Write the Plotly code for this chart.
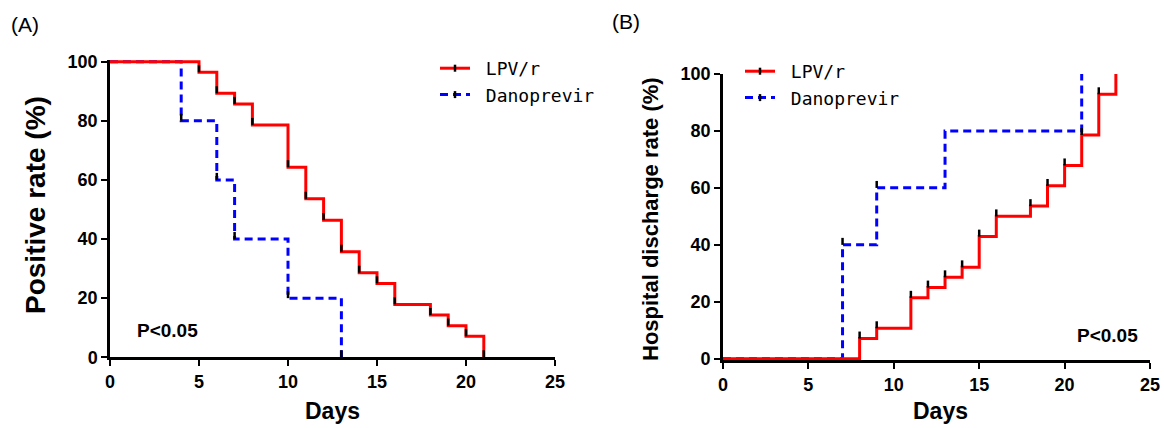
import plotly.graph_objects as go

# ---------------- data ----------------
# (A) Positive rate (%) by days
lpv_pos_days = [0, 5, 6, 7, 8, 10, 11, 12, 13, 14, 15, 16, 18, 19, 20, 21]
lpv_pos_rate = [100, 96.4, 89.3, 85.7, 78.6, 64.3, 53.6, 46.4, 35.7, 28.6, 25.0, 17.9, 14.3, 10.7, 7.1, 0]
lpv_pos_ticks = [5, 6, 7, 8, 10, 11, 12, 13, 14, 15, 16, 18, 19, 20, 21]

dano_pos_days = [0, 4, 6, 7, 10, 13]
dano_pos_rate = [100, 80, 60, 40, 20, 0]
dano_pos_ticks = [4, 6, 7, 10, 13]

# (B) Hospital discharge rate (%) by days
lpv_dis_days = [0, 8, 9, 11, 12, 13, 14, 15, 16, 18, 19, 20, 21, 22, 23]
lpv_dis_rate = [0, 7.1, 10.7, 21.4, 25.0, 28.6, 32.1, 42.9, 50.0, 53.6, 60.7, 67.9, 78.6, 92.9, 100]
lpv_dis_ticks = [8, 9, 11, 12, 13, 14, 15, 16, 18, 19, 20, 21, 22, 23]

dano_dis_days = [0, 7, 9, 13, 21]
dano_dis_rate = [0, 40, 60, 80, 100]
dano_dis_ticks = [7, 9, 21]

series_names = ["LPV/r", "Danoprevir"]
x_ticks = [0, 5, 10, 15, 20, 25]
y_ticks = [0, 20, 40, 60, 80, 100]
p_text = "P<0.05"

# ---------------- style ----------------
FONT = "Liberation Sans, Arial, sans-serif"
MONO = "DejaVu Sans Mono, monospace"
RED = "#ff0000"
BLUE = "#0000ff"
DASH = "8px,5px"
TICK_OFF = 1.2  # censor tick drawn just above the step corner

fig = go.Figure()


def add_km(days, rate, ticks, xa, ya, color, dash):
    fig.add_trace(go.Scatter(
        x=days, y=rate, mode="lines", xaxis=xa, yaxis=ya,
        line=dict(color=color, width=3, dash=dash, shape="hv"),
        showlegend=False, hoverinfo="skip"))
    tick_y = [rate[days.index(d)] + TICK_OFF for d in ticks]
    fig.add_trace(go.Scatter(
        x=ticks, y=tick_y, mode="markers", xaxis=xa, yaxis=ya,
        marker=dict(symbol="line-ns", size=5, color="black",
                    line=dict(color="black", width=2.5)),
        cliponaxis=False, showlegend=False, hoverinfo="skip"))


add_km(dano_pos_days, dano_pos_rate, dano_pos_ticks, "x", "y", BLUE, DASH)
add_km(lpv_pos_days, lpv_pos_rate, lpv_pos_ticks, "x", "y", RED, "solid")
add_km(dano_dis_days, dano_dis_rate, dano_dis_ticks, "x2", "y2", BLUE, DASH)
add_km(lpv_dis_days, lpv_dis_rate, lpv_dis_ticks, "x2", "y2", RED, "solid")

# legend entries
for lg, xa, ya in [("legend", "x", "y"), ("legend2", "x2", "y2")]:
    for name, color, dash in [(series_names[0], RED, "solid"), (series_names[1], BLUE, DASH)]:
        fig.add_trace(go.Scatter(
            x=[None], y=[None], mode="lines+markers", xaxis=xa, yaxis=ya,
            name="\u00a0" + name, legend=lg,
            line=dict(color=color, width=3, dash=dash),
            marker=dict(symbol="line-ns", size=5, color="black",
                        line=dict(color="black", width=2.5))))

axis_common = dict(
    showline=True, linecolor="black", linewidth=2.5,
    ticks="outside", ticklen=6, tickwidth=2, tickcolor="black",
    tickfont=dict(family=FONT, size=18, color="black", weight="bold"),
    showgrid=False, zeroline=False, fixedrange=True, automargin=False,
)

legend_common = dict(
    xanchor="left", yanchor="top",
    font=dict(family=MONO, size=18, color="black"),
    bgcolor="rgba(0,0,0,0)", tracegroupgap=0, itemwidth=30,
)

fig.update_layout(
    width=1164, height=428,
    margin=dict(l=0, r=0, t=0, b=0, autoexpand=False),
    paper_bgcolor="white", plot_bgcolor="white",
    xaxis=dict(axis_common, domain=[0.0945, 0.4768], range=[0, 25], tickvals=x_ticks, anchor="y"),
    yaxis=dict(axis_common, domain=[0.1652, 0.8600], range=[0, 100.6], tickvals=y_ticks, anchor="x"),
    xaxis2=dict(axis_common, domain=[0.6211, 0.9880], range=[0, 25], tickvals=x_ticks, anchor="y2"),
    yaxis2=dict(axis_common, domain=[0.1580, 0.8271], range=[-0.6, 100], tickvals=y_ticks, anchor="x2"),
    legend=dict(legend_common, x=435 / 1164, y=1 - 50 / 428),
    legend2=dict(legend_common, x=740 / 1164, y=1 - 53 / 428),
    showlegend=True,
)

ann_font = dict(family=FONT, color="black")
A = dict(xref="paper", yref="paper", showarrow=False, xanchor="center", yanchor="middle")
annotations = [
    dict(A, text="(A)", x=25 / 1164, y=1 - 24 / 428, font=dict(ann_font, size=21)),
    dict(A, text="(B)", x=626 / 1164, y=1 - 22 / 428, font=dict(ann_font, size=21)),
    dict(A, text="Positive rate (%)", x=35 / 1164, y=1 - 205 / 428, textangle=-90,
         font=dict(ann_font, size=28, weight="bold")),
    dict(A, text="Hospital discharge rate (%)", x=650 / 1164, y=1 - 219 / 428, textangle=-90,
         font=dict(ann_font, size=22, weight="bold")),
    dict(A, text="Days", x=332 / 1164, y=1 - 411 / 428, font=dict(ann_font, size=23, weight="bold")),
    dict(A, text="Days", x=940 / 1164, y=1 - 411 / 428, font=dict(ann_font, size=23, weight="bold")),
    dict(A, text=p_text, x=167 / 1164, y=1 - 330 / 428, font=dict(ann_font, size=19, weight="bold")),
    dict(A, text=p_text, x=1107 / 1164, y=1 - 335 / 428, font=dict(ann_font, size=19, weight="bold")),
]
fig.update_layout(annotations=annotations)

fig.write_html("out.html", config={"displayModeBar": False},
               post_script="document.body.style.margin='0';")
